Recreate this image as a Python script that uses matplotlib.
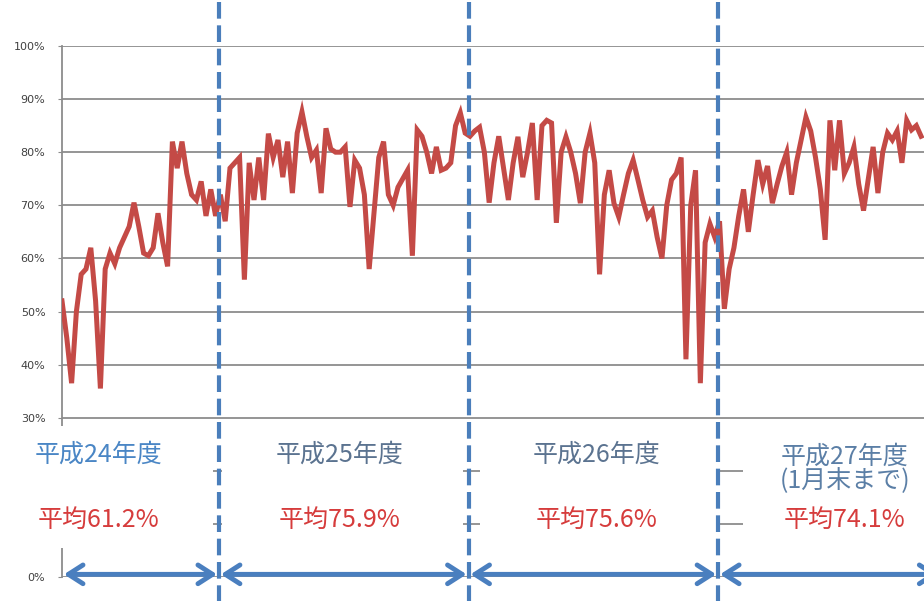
import numpy as np
import matplotlib.pyplot as plt
from matplotlib.patches import Rectangle

plt.rcParams['font.family'] = ['Noto Sans CJK JP', 'DejaVu Sans']

# weekly utilisation (%) per fiscal year
fy24 = [52, 45, 36.5, 50, 57, 58, 62, 52, 35.5, 58, 61, 59, 62, 64, 66, 70.5,
        66, 61, 60.5, 62, 68.5, 63, 58.5, 82, 77, 82, 76, 72, 71, 74.5, 68, 73, 68]
fy25 = [72, 67, 77, 78, 79, 56, 78, 71, 79, 71, 83.5, 79, 82.3, 75.3, 82, 72.3,
        83.6, 87.6, 83, 79, 80.4, 72.3, 84.5, 80.6, 80, 80, 81, 69.7, 78.5, 77,
        72, 58, 68.5, 79, 82, 72, 70, 73.4, 75, 76.6, 60.5, 84.2, 83, 80, 76, 81,
        76.6, 77, 78, 85, 87.4, 83.6]
fy26 = [83, 84, 84.7, 80, 70.5, 78, 83, 77, 71, 78, 82.9, 75.3, 80, 85.5, 71,
        85, 86, 85.5, 66.7, 80, 82.9, 80, 76, 70.4, 80, 83.6, 78, 57, 72, 76.6,
        70.4, 67.8, 72, 76, 78.5, 74.8, 71, 67.8, 69, 64, 60, 70, 74.8, 76, 79,
        41, 70, 76.6, 36.5, 63, 66.5, 64]
fy27 = [67, 50.5, 58, 62, 68, 73, 65, 72, 78.5, 74, 77.4, 70.4, 74, 77.4, 80,
        72, 78, 82.3, 86.6, 84, 79, 73, 63.5, 86, 76.6, 86, 76, 78, 81, 74, 69,
        75, 81, 72.3, 80, 83.6, 82.3, 84, 78, 86, 84.2, 85, 83]

year_labels = ["平成24年度", "平成25年度", "平成26年度", "平成27年度\n(1月末まで)"]
avg_labels = ["平均61.2%", "平均75.9%", "平均75.6%", "平均74.1%"]

series = fy24 + fy25 + fy26 + fy27
x = np.arange(len(series))
counts = np.cumsum([len(fy24), len(fy25), len(fy26)])
bounds = counts - 0.3

fig = plt.figure(figsize=(9.24, 6.01), dpi=100)
ax = fig.add_axes([62 / 924, 1 - 577 / 601, 1 - 62 / 924, 531 / 601])
ax.set_xlim(0, 179.6)
ax.set_ylim(0, 100)

# gridlines
for g in range(0, 101, 10):
    ax.axhline(g, color="#8c8c8c", lw=1.3, zorder=1)

ax.plot(x, series, color="#c44a46", lw=3.6, zorder=3, solid_joinstyle="miter")

for s in ["top", "right", "bottom"]:
    ax.spines[s].set_visible(False)
ax.spines["left"].set_color("#8c8c8c")
ax.spines["left"].set_linewidth(1.3)
ax.set_xticks([])
ax.set_yticks([0, 30, 40, 50, 60, 70, 80, 90, 100])
ax.set_yticklabels([f"{v}%" for v in [0, 30, 40, 50, 60, 70, 80, 90, 100]],
                   fontsize=8, color="#404040", family="DejaVu Sans")
ax.tick_params(axis="y", length=3, color="#8c8c8c", pad=9)

# white label boxes hiding the 10-20% band
def px(p):
    return (p - 62) / 4.8

for a, b in [(52, 213), (222, 463), (480, 716), (743, 940)]:
    ax.add_patch(Rectangle((px(a), 5.5), px(b) - px(a), 23, facecolor="white",
                           edgecolor="none", zorder=2.7, clip_on=False))

# fiscal-year dividers
for b in bounds:
    ax.axvline(b, ymin=-0.05, ymax=1.09, color="#4a7ebb", lw=3, ls=(0, (4, 1.6)),
               zorder=4, clip_on=False)

# span arrows
edges = [0] + list(bounds) + [183]
for i in range(4):
    ax.annotate("", xy=(edges[i + 1] - 0.4, 0.5), xytext=(edges[i] + 0.4, 0.5),
                arrowprops=dict(arrowstyle="<->,head_length=0.7,head_width=0.45",
                                lw=3.5, color="#4a7fbf", mutation_scale=15,
                                shrinkA=0, shrinkB=0),
                annotation_clip=False, zorder=5)

# text labels
centres = [px(99), px(340), px(597), px(845)]
ycols = ["#4a86c5", "#5b7390", "#5b7390", "#5b7fa6"]
for i in range(4):
    if i < 3:
        ax.text(centres[i], 23.0, year_labels[i], ha="center", va="center",
                fontsize=18, color=ycols[i], zorder=6)
    else:
        ax.text(centres[i], 20.4, year_labels[i], ha="center", va="center",
                fontsize=18, color=ycols[i], zorder=6, linespacing=0.95)
    ax.text(centres[i], 10.7, avg_labels[i], ha="center", va="center",
            fontsize=18, color="#d63c3c", zorder=6)

fig.savefig("out.png", dpi=100)
